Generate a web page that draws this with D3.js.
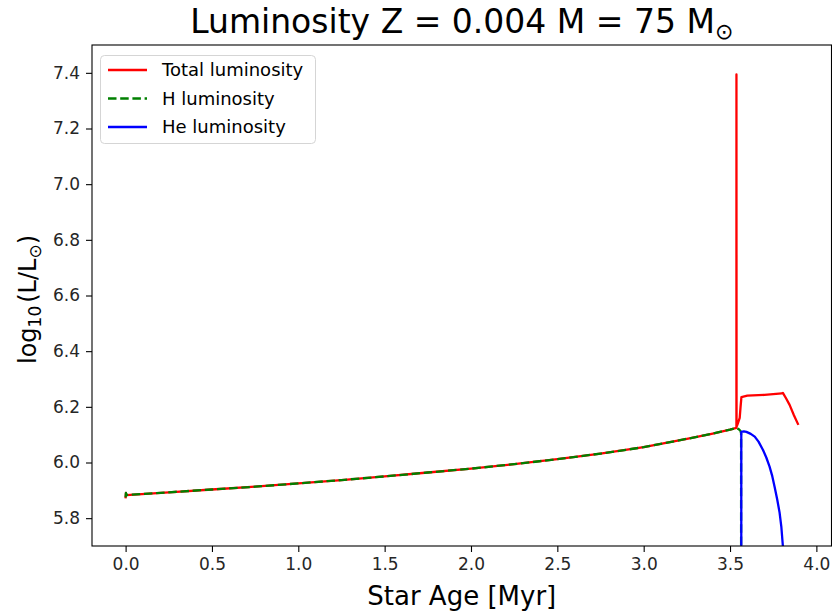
<!DOCTYPE html>
<html>
<head>
<meta charset="utf-8">
<script src="https://cdn.jsdelivr.net/npm/d3@7"></script>
<style>
  html, body { margin: 0; padding: 0; background: #fff; }
  svg { display: block; font-family: "DejaVu Sans", sans-serif; }
</style>
</head>
<body>
<svg id="chart" width="832" height="613"></svg>
<script>
// Stellar evolution track: Z = 0.004, M = 75 Msun
const totalAge = [0.000, 0.002, 0.004, 0.25, 0.5, 0.75, 1.0, 1.25, 1.5, 1.75, 2.0, 2.25, 2.5, 2.75, 3.0, 3.25, 3.4, 3.5, 3.537,
  3.5372, 3.5378, 3.545, 3.556, 3.561, 3.566, 3.6, 3.7, 3.8, 3.806, 3.825, 3.845, 3.87, 3.893];
const totalLum = [5.875, 5.891, 5.883, 5.893, 5.903, 5.913, 5.925, 5.937, 5.950, 5.964, 5.978, 5.994, 6.012, 6.032, 6.055, 6.085, 6.104, 6.118, 6.124,
  7.394, 6.128, 6.140, 6.160, 6.200, 6.235, 6.240, 6.243, 6.248, 6.250, 6.230, 6.207, 6.170, 6.139];

const hAge = [0.000, 0.002, 0.004, 0.25, 0.5, 0.75, 1.0, 1.25, 1.5, 1.75, 2.0, 2.25, 2.5, 2.75, 3.0, 3.25, 3.4, 3.5, 3.537,
  3.550, 3.560, 3.564, 3.5645];
const hLum = [5.875, 5.891, 5.883, 5.893, 5.903, 5.913, 5.925, 5.937, 5.950, 5.964, 5.978, 5.994, 6.012, 6.032, 6.055, 6.085, 6.104, 6.118, 6.124,
  6.120, 6.114, 6.105, 4.500];

const heAge = [3.565, 3.5652, 3.580, 3.595, 3.620, 3.643, 3.665, 3.691, 3.710, 3.729, 3.745, 3.758, 3.773, 3.787, 3.797, 3.806, 3.815];
const heLum = [4.500, 6.110, 6.112, 6.110, 6.103, 6.093, 6.075, 6.045, 6.018, 5.985, 5.950, 5.913, 5.868, 5.820, 5.770, 5.700, 5.600];

const xTicks = [0.0, 0.5, 1.0, 1.5, 2.0, 2.5, 3.0, 3.5, 4.0];
const yTicks = [5.8, 6.0, 6.2, 6.4, 6.6, 6.8, 7.0, 7.2, 7.4];

const seriesNames = ["Total luminosity", "H luminosity", "He luminosity"];
const seriesColors = ["#ff0000", "#008000", "#0000ff"];

const svg = d3.select("#chart");
const plotLeft = 92, plotRight = 831.5, plotTop = 45, plotBottom = 546;
const lineW = 2.3;
const dashPattern = "8.5,3.7";

const x = d3.scaleLinear().domain([-0.1946, 4.0876]).range([plotLeft, plotRight]);
const y = d3.scaleLinear().domain([5.7, 7.5]).range([plotBottom, plotTop]);

svg.append("defs").append("clipPath").attr("id", "plotClip")
  .append("rect").attr("x", plotLeft).attr("y", plotTop)
  .attr("width", plotRight - plotLeft).attr("height", plotBottom - plotTop);

const line = d3.line().x(d => x(d[0])).y(d => y(d[1]));
const plot = svg.append("g").attr("clip-path", "url(#plotClip)");

const series = [
  { name: seriesNames[0], color: seriesColors[0], pts: d3.zip(totalAge, totalLum), dash: null },
  { name: seriesNames[1], color: seriesColors[1], pts: d3.zip(hAge, hLum), dash: dashPattern },
  { name: seriesNames[2], color: seriesColors[2], pts: d3.zip(heAge, heLum), dash: null }
];

series.forEach(s => {
  plot.append("path")
    .attr("d", line(s.pts))
    .attr("fill", "none")
    .attr("stroke", s.color)
    .attr("stroke-width", lineW)
    .attr("stroke-linejoin", "round")
    .attr("stroke-linecap", s.dash ? "butt" : "square")
    .attr("stroke-dasharray", s.dash);
});

// Axes
const xAxis = d3.axisBottom(x).tickValues(xTicks).tickFormat(d3.format(".1f")).tickSizeOuter(0).tickSize(6).tickPadding(6);
const yAxis = d3.axisLeft(y).tickValues(yTicks).tickFormat(d3.format(".1f")).tickSizeOuter(0).tickSize(6).tickPadding(6);

const gx = svg.append("g").attr("transform", `translate(0,${plotBottom})`).call(xAxis);
const gy = svg.append("g").attr("transform", `translate(${plotLeft},0)`).call(yAxis);
[gx, gy].forEach(g => {
  g.select(".domain").remove();
  g.selectAll(".tick line").attr("stroke", "#000").attr("stroke-width", 1.1);
  g.selectAll(".tick text").attr("fill", "#262626").style("font-size", "17px").style("font-family", "DejaVu Sans, sans-serif");
});

// Frame
svg.append("rect").attr("x", plotLeft).attr("y", plotTop)
  .attr("width", plotRight - plotLeft).attr("height", plotBottom - plotTop)
  .attr("fill", "none").attr("stroke", "#000").attr("stroke-width", 1.1);

// Title
const title = svg.append("text").attr("x", (plotLeft + plotRight) / 2).attr("y", 33)
  .attr("text-anchor", "middle").style("font-size", "33px").attr("fill", "#000");
title.append("tspan").text("Luminosity Z = 0.004 M = 75 M");
title.append("tspan").attr("dy", 6).style("font-size", "22px").text("⊙");

// X label
svg.append("text").attr("x", (plotLeft + plotRight) / 2).attr("y", 605)
  .attr("text-anchor", "middle").style("font-size", "26px").attr("fill", "#000").text("Star Age [Myr]");

// Y label
const yl = svg.append("text").attr("transform", `translate(36,${(plotTop + plotBottom) / 2 + 4}) rotate(-90)`)
  .attr("text-anchor", "middle").style("font-size", "24px").attr("fill", "#000");
yl.append("tspan").text("log");
yl.append("tspan").attr("dy", 5).style("font-size", "17px").text("10");
yl.append("tspan").attr("dy", -5).attr("dx", 3).text("(L/L");
yl.append("tspan").attr("dy", 5).style("font-size", "17px").text("⊙");
yl.append("tspan").attr("dy", -5).text(")");

// Legend
const lg = svg.append("g");
lg.append("rect").attr("x", 100.5).attr("y", 55.5).attr("width", 215).attr("height", 88).attr("rx", 4)
  .attr("fill", "#fff").attr("fill-opacity", 0.8).attr("stroke", "#d5d5d5").attr("stroke-width", 1);
series.forEach((s, i) => {
  const yy = 70 + i * 28.5;
  lg.append("line").attr("x1", 108).attr("x2", 147).attr("y1", yy).attr("y2", yy)
    .attr("stroke", s.color).attr("stroke-width", lineW).attr("stroke-dasharray", s.dash);
  lg.append("text").attr("x", 162).attr("y", yy + 6).style("font-size", "18px").attr("fill", "#000").text(s.name);
});
</script>
</body>
</html>
